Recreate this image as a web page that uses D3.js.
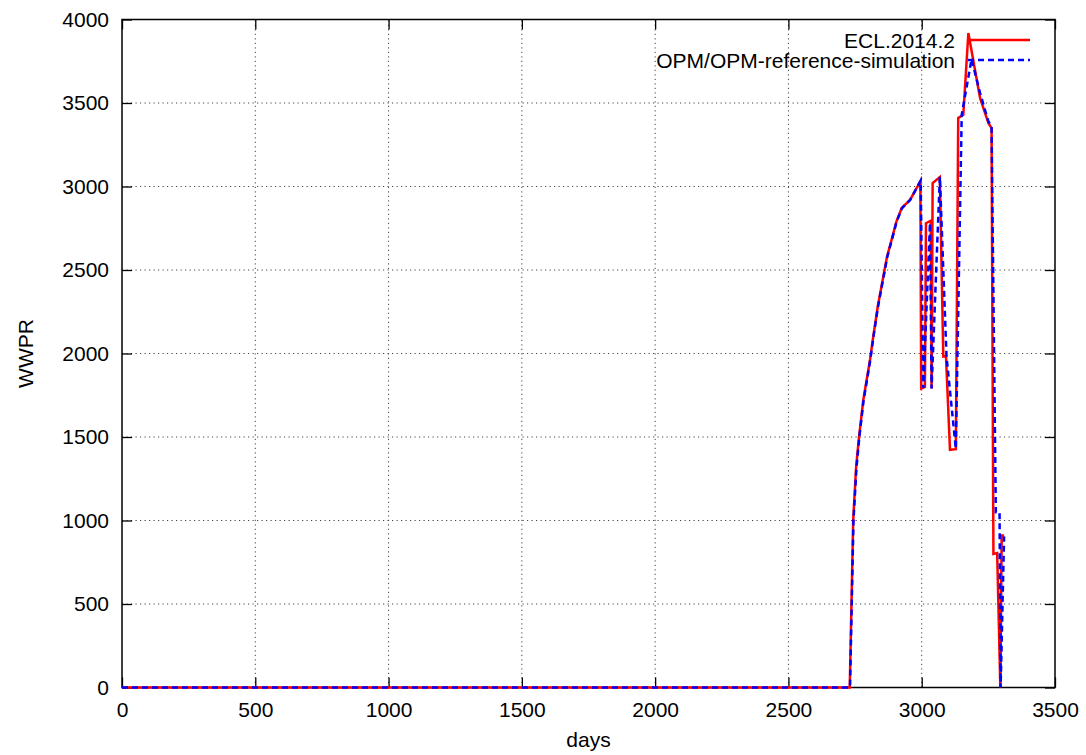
<!DOCTYPE html>
<html>
<head>
<meta charset="utf-8">
<script src="https://cdn.jsdelivr.net/npm/d3@7"></script>
<style>
  html, body { margin: 0; padding: 0; background: #fff; }
  text { font-family: "Liberation Sans", Arial, sans-serif; fill: #000; }
</style>
</head>
<body>
<svg id="chart" width="1086" height="755"></svg>
<script>
// ---- data ----
const xTicks = [0, 500, 1000, 1500, 2000, 2500, 3000, 3500];
const yTicks = [0, 500, 1000, 1500, 2000, 2500, 3000, 3500, 4000];

const eclDays = [0, 2730, 2743, 2754, 2765, 2781, 2806, 2818, 2835, 2856, 2870, 2887, 2905, 2925, 2956, 2995,
  2998, 3012, 3016, 3034, 3037, 3041, 3068, 3081, 3091, 3106, 3128, 3137, 3156, 3175, 3219, 3250, 3262,
  3269, 3283, 3295, 3300, 3309];
const eclWWPR = [0, 0, 1004, 1323, 1503, 1723, 1961, 2100, 2280, 2461, 2580, 2681, 2790, 2871, 2920, 3030,
  1790, 1800, 2780, 2795, 1790, 3020, 3056, 1982, 1985, 1423, 1427, 3410, 3429, 3919, 3529, 3380, 3350,
  800, 805, 0, 910, 910];

const opmDays = [0, 2731, 2744, 2755, 2766, 2782, 2807, 2819, 2836, 2857, 2871, 2888, 2906, 2926, 2957, 2996,
  3006, 3031, 3037, 3068, 3093, 3128, 3150, 3187, 3219, 3250, 3262, 3278, 3292, 3296, 3309];
const opmWWPR = [0, 0, 1000, 1310, 1500, 1720, 1960, 2100, 2280, 2460, 2580, 2680, 2790, 2870, 2920, 3036,
  1793, 2781, 1790, 3058, 1982, 1430, 3429, 3763, 3559, 3390, 3360, 1050, 1050, 0, 905];

const seriesNames = ["ECL.2014.2", "OPM/OPM-reference-simulation"];
const xLabel = "days";
const yLabel = "WWPR";

// ---- layout ----
const svg = d3.select("#chart");
const L = 122, R = 1055, T = 19.5, B = 687.5;
const x = d3.scaleLinear().domain([0, 3500]).range([L, R]);
const y = d3.scaleLinear().domain([0, 4000]).range([B, T]);
const FS = 21;
const fmt = d3.format("d");

// grid
const grid = svg.append("g").attr("stroke", "#444").attr("stroke-width", 1).attr("stroke-dasharray", "1.2,3.3");
xTicks.slice(1, -1).forEach(t => {
  grid.append("line").attr("x1", x(t)).attr("x2", x(t)).attr("y1", B).attr("y2", T);
});
yTicks.slice(1, -1).forEach(t => {
  grid.append("line").attr("x1", L).attr("x2", R).attr("y1", y(t)).attr("y2", y(t));
});

// axes with inward ticks (mirror on top/right)
const tickLen = 10;
const axB = svg.append("g").attr("transform", `translate(0,${B})`)
  .call(d3.axisBottom(x).tickValues(xTicks).tickFormat(fmt).tickSizeInner(-tickLen).tickSizeOuter(0).tickPadding(15));
const axT = svg.append("g").attr("transform", `translate(0,${T})`)
  .call(d3.axisTop(x).tickValues(xTicks).tickSizeInner(-tickLen).tickSizeOuter(0).tickFormat(""));
const axL = svg.append("g").attr("transform", `translate(${L},0)`)
  .call(d3.axisLeft(y).tickValues(yTicks).tickFormat(fmt).tickSizeInner(-tickLen).tickSizeOuter(0).tickPadding(13));
const axR = svg.append("g").attr("transform", `translate(${R},0)`)
  .call(d3.axisRight(y).tickValues(yTicks).tickSizeInner(-tickLen).tickSizeOuter(0).tickFormat(""));
[axB, axT, axL, axR].forEach(a => {
  a.select(".domain").remove();
  a.selectAll(".tick line").attr("stroke", "#000").attr("stroke-width", 1.3);
  a.selectAll("text").attr("font-size", FS).attr("font-family", "Liberation Sans, Arial, sans-serif").attr("fill", "#000");
});

// frame
svg.append("rect").attr("x", L).attr("y", T).attr("width", R - L).attr("height", B - T)
  .attr("fill", "none").attr("stroke", "#000").attr("stroke-width", 1.5);

// lines
const line = d3.line().x(d => x(d[0])).y(d => y(d[1]));
const eclData = eclDays.map((d, i) => [d, eclWWPR[i]]);
const opmData = opmDays.map((d, i) => [d, opmWWPR[i]]);

svg.append("path").datum(eclData).attr("d", line)
  .attr("fill", "none").attr("stroke", "#ff0000").attr("stroke-width", 2.5).attr("stroke-linejoin", "miter");
svg.append("path").datum(opmData).attr("d", line)
  .attr("fill", "none").attr("stroke", "#0000ff").attr("stroke-width", 2.5).attr("stroke-dasharray", "6,4");

// legend
const legX1 = 968, legX2 = 1030, legTextX = 955;
const legY = [40, 60];
svg.append("line").attr("x1", legX1).attr("x2", legX2).attr("y1", legY[0]).attr("y2", legY[0])
  .attr("stroke", "#ff0000").attr("stroke-width", 2.5);
svg.append("line").attr("x1", legX1).attr("x2", legX2).attr("y1", legY[1]).attr("y2", legY[1])
  .attr("stroke", "#0000ff").attr("stroke-width", 2.5).attr("stroke-dasharray", "6,4");
seriesNames.forEach((n, i) => {
  svg.append("text").attr("x", legTextX).attr("y", legY[i]).attr("dy", "0.36em")
    .attr("text-anchor", "end").attr("font-size", FS).text(n);
});

// axis labels
svg.append("text").attr("x", (L + R) / 2).attr("y", 747).attr("text-anchor", "middle")
  .attr("font-size", FS).text(xLabel);
svg.append("text").attr("transform", `translate(33,${(T + B) / 2}) rotate(-90)`)
  .attr("text-anchor", "middle").attr("font-size", FS).text(yLabel);
</script>
</body>
</html>
